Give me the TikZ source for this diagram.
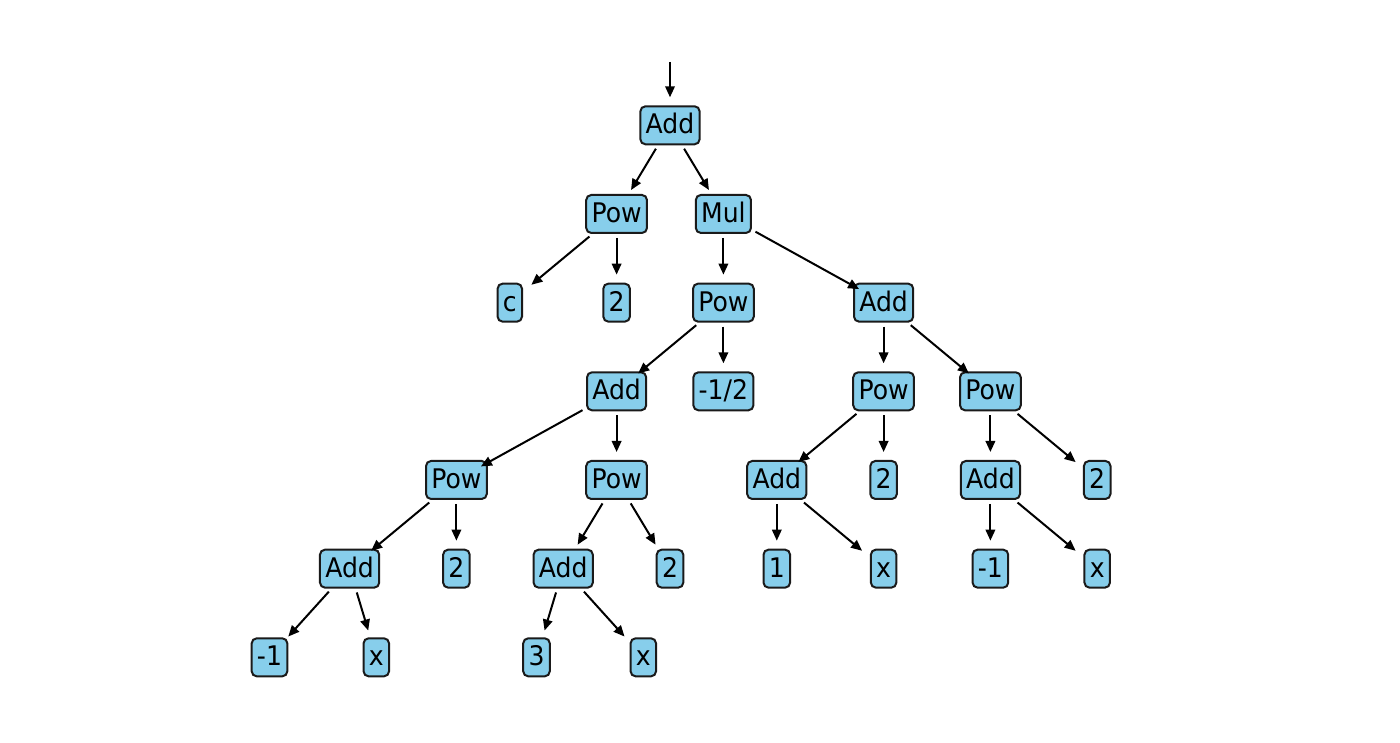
\documentclass[tikz,border=0pt]{standalone}
\usepackage{fontspec}
\newfontfamily\nodefont{DejaVu Sans}[FakeStretch=0.93]
\usetikzlibrary{arrows.meta}
\definecolor{boxfill}{HTML}{87CEEB}
\definecolor{boxline}{HTML}{1A1A1A}
\tikzset{
  tn/.style={draw=boxline, fill=boxfill, line width=2pt, rounded corners=5pt,
    inner xsep=5.3pt, inner ysep=7.4pt, text height=20pt, text depth=3.2pt,
    font=\nodefont\fontsize{27}{30}\selectfont, text=black},
  arr/.style={draw=black, line width=2pt, -{Triangle[length=11pt,width=9.5pt]},
    shorten <=4pt, shorten >=28pt}
}
\newcommand{\TN}[4]{\node[tn] (#1) at ({670+53.4*(#2)}, {125.3+88.67*(#3)}) {#4};}
\begin{document}
\begin{tikzpicture}[x=1pt,y=-1pt]
\useasboundingbox (0,0) rectangle (1400,743);
\TN{n0}{0}{0}{Add}
\TN{n1}{-1}{1}{Pow}
\TN{n2}{1}{1}{Mul}
\TN{n3}{-3}{2}{c}
\TN{n4}{-1}{2}{2}
\TN{n5}{1}{2}{Pow}
\TN{n6}{4}{2}{Add}
\TN{n7}{-1}{3}{Add}
\TN{n8}{1}{3}{-1/2}
\TN{n9}{4}{3}{Pow}
\TN{n10}{6}{3}{Pow}
\TN{n11}{-4}{4}{Pow}
\TN{n12}{-1}{4}{Pow}
\TN{n13}{2}{4}{Add}
\TN{n14}{4}{4}{2}
\TN{n15}{6}{4}{Add}
\TN{n16}{8}{4}{2}
\TN{n17}{-6}{5}{Add}
\TN{n18}{-4}{5}{2}
\TN{n19}{-2}{5}{Add}
\TN{n20}{0}{5}{2}
\TN{n21}{2}{5}{1}
\TN{n22}{4}{5}{x}
\TN{n23}{6}{5}{-1}
\TN{n24}{8}{5}{x}
\TN{n25}{-7.5}{6}{-1}
\TN{n26}{-5.5}{6}{x}
\TN{n27}{-2.5}{6}{3}
\TN{n28}{-0.5}{6}{x}
\coordinate (top) at (670,62);
\draw[arr, shorten <=0pt] (top) -- (n0.center);
\foreach \a/\b in {n0/n1,n0/n2,n1/n3,n1/n4,n2/n5,n2/n6,n5/n7,n5/n8,n6/n9,n6/n10,
  n7/n11,n7/n12,n9/n13,n9/n14,n10/n15,n10/n16,n11/n17,n11/n18,n12/n19,n12/n20,
  n13/n21,n13/n22,n15/n23,n15/n24,n17/n25,n17/n26,n19/n27,n19/n28}
  \draw[arr] (\a) -- (\b.center);
\end{tikzpicture}
\end{document}
